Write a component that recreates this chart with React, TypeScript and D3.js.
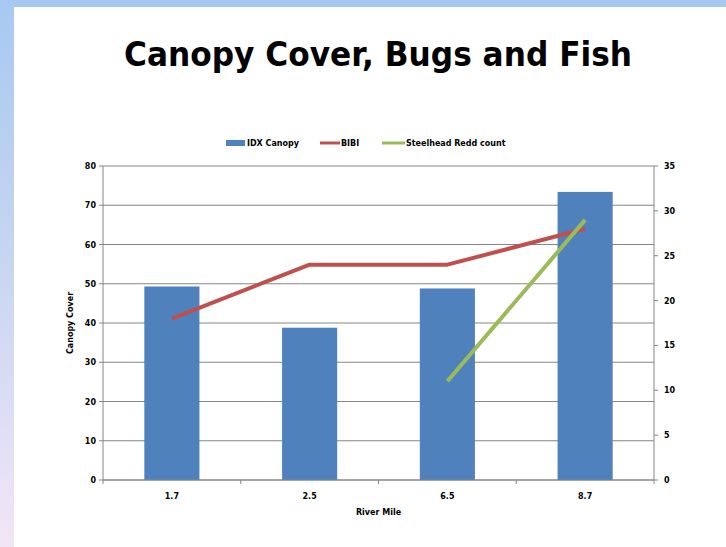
import React from "react";
import * as d3 from "d3";

// chart data
const categories = ["1.7", "2.5", "6.5", "8.7"];
const canopy = [49.3, 38.8, 48.8, 73.4];
const bibi = [18, 24, 24, 28];
const redd: (number | null)[] = [null, null, 11, 29];
const leftTicks = [0, 10, 20, 30, 40, 50, 60, 70, 80];
const rightTicks = [0, 5, 10, 15, 20, 25, 30, 35];

const W = 726;
const H = 547;
const margin = { top: 166, right: 72, bottom: 67, left: 103 };
const font = "'Comic Sans MS', 'DejaVu Sans', sans-serif";

export default function App() {
  const innerRight = W - margin.right;
  const innerBottom = H - margin.bottom;

  const x = d3.scaleBand().domain(categories).range([margin.left, innerRight]).paddingInner(0.6).paddingOuter(0.3);
  const band = d3.scaleBand().domain(categories).range([margin.left, innerRight]);
  const yL = d3.scaleLinear().domain([0, 80]).range([innerBottom, margin.top]);
  const yR = d3.scaleLinear().domain([0, 35]).range([innerBottom, margin.top]);

  const cx = (c: string) => (band(c) as number) + band.bandwidth() / 2;

  const line = d3
    .line<{ c: string; v: number | null }>()
    .defined((d) => d.v != null)
    .x((d) => cx(d.c))
    .y((d) => yR(d.v as number));

  const bibiPts = categories.map((c, i) => ({ c, v: bibi[i] }));
  const reddPts = categories.map((c, i) => ({ c, v: redd[i] }));

  const grey = "#868686";

  return (
    <div style={{ position: "fixed", left: 0, top: 0 }}>
      <svg width={W} height={H} style={{ display: "block" }}>
        <defs>
          <linearGradient id="side" x1="0" y1="0" x2="0" y2="1">
            <stop offset="0" stopColor="#a7c9f1" />
            <stop offset="0.5" stopColor="#c9d6f0" />
            <stop offset="1" stopColor="#f1e6f6" />
          </linearGradient>
        </defs>
        <rect x={0} y={0} width={W} height={H} fill="#ffffff" />
        <rect x={0} y={0} width={14} height={H} fill="url(#side)" />
        <rect x={0} y={0} width={W} height={7} fill="#a7c9f1" />

        <text x={378} y={66} textAnchor="middle" fontFamily={font} fontSize={33} fontWeight="bold" textLength={508} lengthAdjust="spacingAndGlyphs" fill="#000">
          Canopy Cover, Bugs and Fish
        </text>

        {/* gridlines */}
        {leftTicks.map((t) => (
          <line key={"g" + t} x1={margin.left} x2={innerRight} y1={yL(t)} y2={yL(t)} stroke={grey} strokeWidth={1} />
        ))}

        {/* bars */}
        {categories.map((c, i) => (
          <rect key={c} x={x(c)} y={yL(canopy[i])} width={x.bandwidth()} height={innerBottom - yL(canopy[i])} fill="#4f81bd" />
        ))}

        {/* lines */}
        <path d={line(bibiPts) || ""} fill="none" stroke="#c0504d" strokeWidth={4} strokeLinejoin="round" />
        <path d={line(reddPts) || ""} fill="none" stroke="#9bbb59" strokeWidth={4} strokeLinejoin="round" />

        {/* left axis */}
        <line x1={margin.left} x2={margin.left} y1={margin.top} y2={innerBottom} stroke={grey} />
        {leftTicks.map((t) => (
          <g key={"l" + t}>
            <line x1={margin.left - 4} x2={margin.left} y1={yL(t)} y2={yL(t)} stroke={grey} />
            <text x={margin.left - 7} y={yL(t) + 3} textAnchor="end" fontFamily={font} fontSize={8} fontWeight="bold" fill="#000">
              {t}
            </text>
          </g>
        ))}

        {/* right axis */}
        <line x1={innerRight} x2={innerRight} y1={margin.top} y2={innerBottom} stroke={grey} />
        {rightTicks.map((t) => (
          <g key={"r" + t}>
            <line x1={innerRight} x2={innerRight + 4} y1={yR(t)} y2={yR(t)} stroke={grey} />
            <text x={innerRight + 10} y={yR(t) + 3} textAnchor="start" fontFamily={font} fontSize={8} fontWeight="bold" fill="#000">
              {t}
            </text>
          </g>
        ))}

        {/* x axis */}
        <line x1={margin.left} x2={innerRight} y1={innerBottom} y2={innerBottom} stroke={grey} />
        {categories.map((c) => (
          <g key={"x" + c}>
            <line x1={(band(c) as number) + band.bandwidth()} x2={(band(c) as number) + band.bandwidth()} y1={innerBottom} y2={innerBottom + 4} stroke={grey} />
            <text x={cx(c)} y={innerBottom + 19} textAnchor="middle" fontFamily={font} fontSize={8} fontWeight="bold" fill="#000">
              {c}
            </text>
          </g>
        ))}
        <line x1={margin.left} x2={margin.left} y1={innerBottom} y2={innerBottom + 4} stroke={grey} />

        <text x={(margin.left + innerRight) / 2} y={innerBottom + 35} textAnchor="middle" fontFamily={font} fontSize={8} fontWeight="bold" fill="#000">
          River Mile
        </text>
        <text transform={`translate(73,${(margin.top + innerBottom) / 2}) rotate(-90)`} textAnchor="middle" fontFamily={font} fontSize={8} fontWeight="bold" fill="#000">
          Canopy Cover
        </text>

        {/* legend */}
        <rect x={226} y={140} width={19} height={6} fill="#4f81bd" />
        <text x={247} y={146} fontFamily={font} fontSize={8} fontWeight="bold" fill="#000">IDX Canopy</text>
        <line x1={320} x2={340} y1={143} y2={143} stroke="#c0504d" strokeWidth={3} />
        <text x={341} y={146} fontFamily={font} fontSize={8} fontWeight="bold" fill="#000">BIBI</text>
        <line x1={382} x2={405} y1={143} y2={143} stroke="#9bbb59" strokeWidth={3} />
        <text x={406} y={146} fontFamily={font} fontSize={8} fontWeight="bold" fill="#000">Steelhead Redd count</text>
      </svg>
    </div>
  );
}
